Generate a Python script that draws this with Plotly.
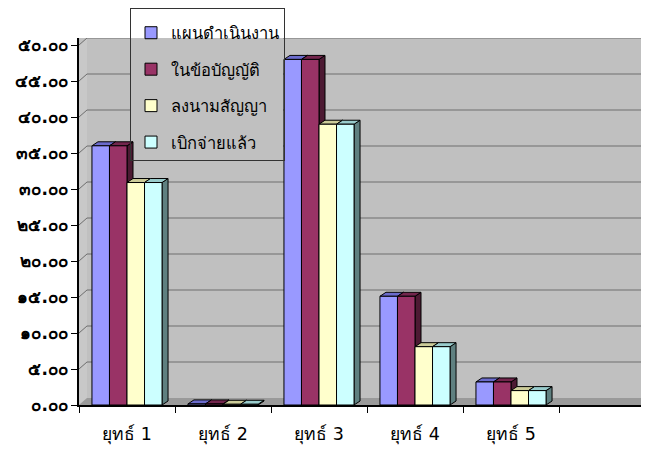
import plotly.graph_objects as go

# ---------------- data ----------------
categories = ["ยุทธ์ 1", "ยุทธ์ 2", "ยุทธ์ 3", "ยุทธ์ 4", "ยุทธ์ 5"]
series_names = ["แผนดำเนินงาน", "ในข้อบัญญัติ", "ลงนามสัญญา", "เบิกจ่ายแล้ว"]
plan_values = [36.0, 0.15, 48.0, 15.1, 3.2]
budget_values = [36.0, 0.15, 48.0, 15.1, 3.2]
contract_values = [30.9, 0.1, 39.0, 8.1, 2.0]
paid_values = [30.9, 0.1, 39.0, 8.1, 2.0]
y_tick_values = [0, 5, 10, 15, 20, 25, 30, 35, 40, 45, 50]
y_tick_labels = ["๐.๐๐", "๕.๐๐", "๑๐.๐๐", "๑๕.๐๐", "๒๐.๐๐", "๒๕.๐๐",
                 "๓๐.๐๐", "๓๕.๐๐", "๔๐.๐๐", "๔๕.๐๐", "๕๐.๐๐"]

# ---------------- style ----------------
front_colors = ["#9999FF", "#993366", "#FFFFCC", "#CCFFFF"]
top_colors = ["#6B6BCC", "#73264D", "#CCCC99", "#99CCCC"]
side_colors = ["#4D4D80", "#4D1A33", "#80805F", "#5F8080"]
all_series = [plan_values, budget_values, contract_values, paid_values]

W, H = 649, 449
OFF = 8                       # page body margin offset
ML, MT = 79 - OFF, 38 - OFF
MR = OFF
MB = H - (405 - OFF)
plot_w = W - ML - MR
plot_h = H - MT - MB
WALL_DY = 0.975               # back wall depth in value units
y_max = 50 + WALL_DY
px_per_unit = plot_h / y_max
cat_px = 96.0
x_range = [-0.5, -0.5 + plot_w / cat_px]
WALL_DX = 8.0 / plot_w        # back wall depth in paper units
BAR_DX = 6.0 / cat_px         # bar depth in category units
BAR_DY = 4.0 / px_per_unit    # bar depth in value units
BARGAP = 0.27
FONT = "Tahoma, 'DejaVu Sans', 'Noto Sans', sans-serif"

fig = go.Figure()
for j, (name, vals) in enumerate(zip(series_names, all_series)):
    fig.add_trace(go.Bar(
        x=categories, y=vals, name=name,
        marker=dict(color=front_colors[j], line=dict(color="black", width=1)),
        legendgroup=str(j),
    ))

shapes = []
# left side wall
shapes.append(dict(type="path", xref="paper", yref="y", layer="below",
                   path=f"M 0,0 L {WALL_DX},{WALL_DY} L {WALL_DX},{50 + WALL_DY} L 0,50 Z",
                   fillcolor="#C8C8C8", line=dict(width=0)))
# floor
shapes.append(dict(type="path", xref="paper", yref="y", layer="below",
                   path=f"M 0,0 L {WALL_DX},{WALL_DY} L 1,{WALL_DY} L 1,0 Z",
                   fillcolor="#9A9A9A", line=dict(width=0)))
# gridlines on walls
for v in y_tick_values[1:]:
    shapes.append(dict(type="line", xref="paper", yref="y", layer="below",
                       x0=WALL_DX, x1=1, y0=v + WALL_DY, y1=v + WALL_DY,
                       line=dict(color="#6E6E6E", width=1.2)))
    shapes.append(dict(type="line", xref="paper", yref="y", layer="below",
                       x0=0, x1=WALL_DX, y0=v, y1=v + WALL_DY,
                       line=dict(color="#6E6E6E", width=1)))
# legend box (reference pixel coords)
LEG_L, LEG_T, LEG_R, LEG_B = 130, 8, 283, 158
shapes.append(dict(type="rect", xref="paper", yref="paper", layer="below",
                   x0=(LEG_L - OFF - ML) / plot_w, x1=(LEG_R - OFF - ML) / plot_w,
                   y0=(H - MB - (LEG_B - OFF)) / plot_h, y1=1,
                   fillcolor="#C0C0C0", line=dict(width=0)))

# 3D faces of bars (derived from data values)
n = len(all_series)
bw = (1 - BARGAP) / n
side_shapes, top_shapes = [], []
for i in range(len(categories)):
    for j, vals in enumerate(all_series):
        v = vals[i]
        xl = i - (1 - BARGAP) / 2 + bw * j
        xr = xl + bw
        side_shapes.append(dict(
            type="path", xref="x", yref="y", layer="below",
            path=f"M {xr},0 L {xr},{v} L {xr + BAR_DX},{v + BAR_DY} L {xr + BAR_DX},{BAR_DY} Z",
            fillcolor=side_colors[j], line=dict(color="black", width=1)))
        top_shapes.append(dict(
            type="path", xref="x", yref="y", layer="below",
            path=f"M {xl},{v} L {xl + BAR_DX},{v + BAR_DY} L {xr + BAR_DX},{v + BAR_DY} L {xr},{v} Z",
            fillcolor=top_colors[j], line=dict(color="black", width=1)))
shapes += side_shapes + top_shapes

fig.update_layout(
    width=W, height=H,
    margin=dict(l=ML, r=MR, t=MT, b=MB, pad=0, autoexpand=False),
    paper_bgcolor="white",
    plot_bgcolor="#C0C0C0",
    barmode="group", bargap=BARGAP, bargroupgap=0,
    font=dict(family=FONT, color="black"),
    shapes=shapes,
    showlegend=True,
    legend=dict(
        xref="container", yref="container",
        x=(LEG_L - OFF) / W, y=1 - (LEG_T - OFF) / H,
        xanchor="left", yanchor="top",
        bgcolor="rgba(0,0,0,0)", bordercolor="#333333", borderwidth=1,
        font=dict(family=FONT, size=16.5, color="black"),
        title=dict(text=" ", font=dict(size=5)),
        traceorder="grouped", tracegroupgap=12,
    ),
    xaxis=dict(
        type="category", range=x_range,
        showgrid=False, zeroline=False,
        showline=True, linecolor="black", linewidth=1.5,
        ticks="outside", tickson="boundaries", ticklen=6, tickcolor="black",
        tickfont=dict(family=FONT, size=17.5),
        ticklabelstandoff=12,
    ),
    yaxis=dict(
        range=[0, y_max],
        tickvals=y_tick_values, ticktext=y_tick_labels,
        showgrid=False, zeroline=False,
        showline=True, linecolor="black", linewidth=1.5,
        ticks="outside", ticklen=6, tickcolor="black",
        tickfont=dict(family=FONT, size=17, weight="bold"),
    ),
)

fig.write_html("out.html")
